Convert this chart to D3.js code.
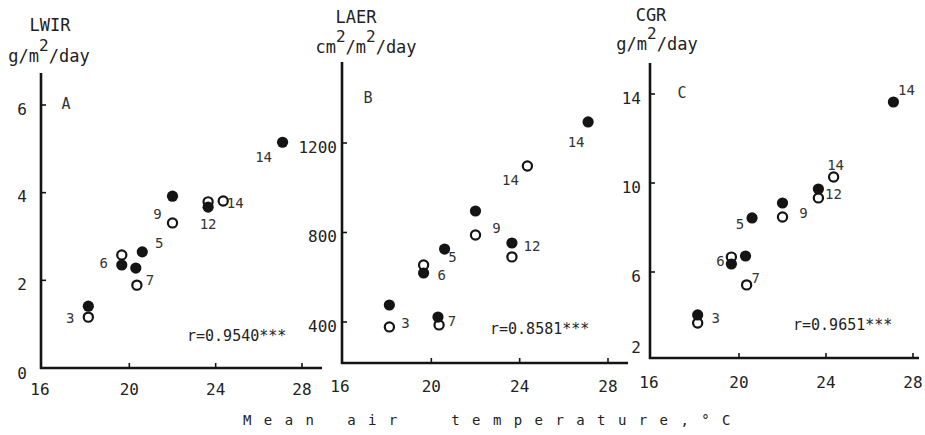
<!DOCTYPE html>
<html><head><meta charset="utf-8">
<script src="https://cdn.jsdelivr.net/npm/d3@7"></script>
<style>
html,body{margin:0;padding:0;background:#fff;}
svg{display:block;font-family:"DejaVu Sans Mono",monospace;}
</style></head>
<body>
<svg id="chart" width="925" height="435"></svg>
<script>
// ---- data ----
const sites = ["3","6","7","5","9","12","14"];
const tempFilled = [18.1, 19.65, 20.3, 20.6, 22.0, 23.65, 27.1];
const tempOpen   = [18.1, 19.65, 20.35, null, 22.0, 23.65, 24.35];
const lwirFilled = [1.41, 2.35, 2.28, 2.65, 3.92, 3.67, 5.15];
const lwirOpen   = [1.16, 2.58, 1.89, null, 3.31, 3.79, 3.81];
const laerFilled = [476, 619, 422, 726, 896, 753, 1294];
const laerOpen   = [378, 655, 387, null, 789, 691, 1097];
const cgrFilled  = [4.07, 6.36, 6.72, 8.43, 9.10, 9.73, 13.64];
const cgrOpen    = [3.71, 6.67, 5.42, null, 8.47, 9.33, 10.27];
const xTicks = [16, 20, 24, 28];
const lwirTicks = [0, 2, 4, 6];
const laerTicks = [400, 800, 1200];
const cgrTicks = [2, 6, 10, 14];
const corrLabels = ["r=0.9540***", "r=0.8581***", "r=0.9651***"];
const panelLetters = ["A", "B", "C"];
const xTitle = "Mean air  temperature,°C";

// ---- layout ----
const panels = [
  { filled: lwirFilled, open: lwirOpen, ticks: lwirTicks, yDom: [0, 6], yRange: [368, 105],
    xRange: [43, 302], axisX: 41, axisTop: 73, axisBottom: 368, axisRight: 322,
    title: "LWIR", unit: ["g/m", "2", "/day"], titleX: 50, titleY: 25, unitX: 49, unitY: 62,
    letterPos: [66, 104], corrPos: [187, 341], xLabY: 395, yLabEnd: 27,
    lab: { // [anchor ('f'/'o'), dx, dy] for each site label
      f: {"6":[-18,-2],"5":[17,-9],"12":[0,17],"14":[-19,15]},
      o: {"3":[-18,1],"7":[13,-5],"9":[-15,-9],"14":[12,2]} } },
  { filled: laerFilled, open: laerOpen, ticks: laerTicks, yDom: [400, 1200], yRange: [322, 143],
    xRange: [343, 608], axisX: 342, axisTop: 62, axisBottom: 363, axisRight: 628,
    title: "LAER", unit: ["cm", "2", "/m", "2", "/day"], titleX: 356, titleY: 17, unitX: 366, unitY: 53,
    letterPos: [368, 98], corrPos: [490, 334], xLabY: 392, yLabEnd: 337,
    lab: {
      f: {"6":[18,2],"7":[14,4],"5":[8,8],"12":[20,3],"14":[-12,20]},
      o: {"3":[16,-4],"9":[21,-7],"14":[-17,14]} } },
  { filled: cgrFilled, open: cgrOpen, ticks: cgrTicks, yDom: [6, 14], yRange: [272, 94],
    xRange: [652, 913], axisX: 650, axisTop: 63, axisBottom: 358, axisRight: 919,
    title: "CGR", unit: ["g/m", "2", "/day"], titleX: 651, titleY: 15, unitX: 657, unitY: 50,
    letterPos: [682, 93], corrPos: [793, 330], xLabY: 388, yLabEnd: 641,
    lab: {
      f: {"3":[18,3],"6":[-11,-3],"5":[-12,6],"14":[13,-12]},
      o: {"7":[9,-7],"9":[21,-4],"12":[15,-4],"14":[2,-12]} } }
];

const svg = d3.select("#chart");
const ink = "#141414";

panels.forEach((p, i) => {
  const x = d3.scaleLinear().domain([16, 28]).range(p.xRange);
  const y = d3.scaleLinear().domain(p.yDom).range(p.yRange);
  const g = svg.append("g");

  // axes lines
  g.append("line").attr("x1", p.axisX).attr("x2", p.axisX)
    .attr("y1", p.axisTop).attr("y2", p.axisBottom + 1)
    .attr("stroke", ink).attr("stroke-width", 2.6);
  g.append("line").attr("x1", p.axisX - 1).attr("x2", p.axisRight)
    .attr("y1", p.axisBottom).attr("y2", p.axisBottom)
    .attr("stroke", ink).attr("stroke-width", 2.6);

  // x ticks
  xTicks.filter(t => t > 16).forEach(t => {
    g.append("line").attr("x1", x(t)).attr("x2", x(t))
      .attr("y1", p.axisBottom).attr("y2", p.axisBottom - 5)
      .attr("stroke", ink).attr("stroke-width", 1.6);
  });
  g.selectAll(".xl").data(xTicks).enter().append("text")
    .attr("x", t => t === 16 ? x(t) - 3 : x(t))
    .attr("y", p.xLabY)
    .attr("text-anchor", "middle").attr("font-size", 16).attr("fill", "#222")
    .text(t => t);

  // y ticks
  p.ticks.forEach(t => {
    const yy = y(t);
    const onAxis = yy >= p.axisBottom - 6;
    if (!onAxis) {
      g.append("line").attr("x1", p.axisX).attr("x2", p.axisX + 5)
        .attr("y1", yy).attr("y2", yy).attr("stroke", ink).attr("stroke-width", 1.6);
    }
    const ly = onAxis ? Math.min(yy, p.axisBottom) - (yy > p.axisBottom ? 11 : -5) : yy + 4;
    g.append("text").attr("x", p.yLabEnd).attr("y", ly)
      .attr("text-anchor", "end").attr("dominant-baseline", "central")
      .attr("font-size", 16).attr("fill", "#222").text(t);
  });

  // titles
  g.append("text").attr("x", p.titleX).attr("y", p.titleY)
    .attr("text-anchor", "middle").attr("dominant-baseline", "central")
    .attr("font-size", 17).attr("fill", "#222").text(p.title);
  const ut = g.append("text").attr("x", p.unitX).attr("y", p.unitY)
    .attr("text-anchor", "middle").attr("font-size", 17).attr("fill", "#222");
  p.unit.forEach(part => {
    if (part === "2") ut.append("tspan").attr("dy", -11).attr("font-size", 16).text(part);
    else {
      const ts = ut.append("tspan").text(part);
      if (ut.selectAll("tspan").size() > 1) ts.attr("dy", 11);
    }
  });

  // panel letter
  g.append("text").attr("x", p.letterPos[0]).attr("y", p.letterPos[1])
    .attr("text-anchor", "middle").attr("dominant-baseline", "central")
    .attr("font-size", 15).attr("fill", "#333").text(panelLetters[i]);

  // correlation
  g.append("text").attr("x", p.corrPos[0]).attr("y", p.corrPos[1])
    .attr("font-size", 15).attr("fill", "#222").text(corrLabels[i]);

  // points: open first, filled on top
  const openPts = sites.map((s, k) => ({ s, t: tempOpen[k], v: p.open[k] })).filter(d => d.v != null && d.t != null);
  const fillPts = sites.map((s, k) => ({ s, t: tempFilled[k], v: p.filled[k] }));
  g.selectAll(".op").data(openPts).enter().append("circle")
    .attr("cx", d => x(d.t)).attr("cy", d => y(d.v)).attr("r", 4.6)
    .attr("fill", "#fff").attr("stroke", ink).attr("stroke-width", 2.2);
  g.selectAll(".fp").data(fillPts).enter().append("circle")
    .attr("cx", d => x(d.t)).attr("cy", d => y(d.v)).attr("r", 5.6)
    .attr("fill", ink);

  // site labels
  [["f", fillPts], ["o", openPts]].forEach(([key, pts]) => {
    pts.forEach(d => {
      const off = p.lab[key][d.s];
      if (!off) return;
      g.append("text").attr("x", x(d.t) + off[0]).attr("y", y(d.v) + off[1])
        .attr("text-anchor", "middle").attr("dominant-baseline", "central")
        .attr("font-size", 14).attr("fill", "#333").text(d.s);
    });
  });
});

// common x title
svg.append("text").attr("x", 243).attr("y", 425)
  .attr("font-size", 14).attr("fill", "#222")
  .attr("letter-spacing", 12.4).style("white-space", "pre")
  .text(xTitle);
</script>
</body></html>
